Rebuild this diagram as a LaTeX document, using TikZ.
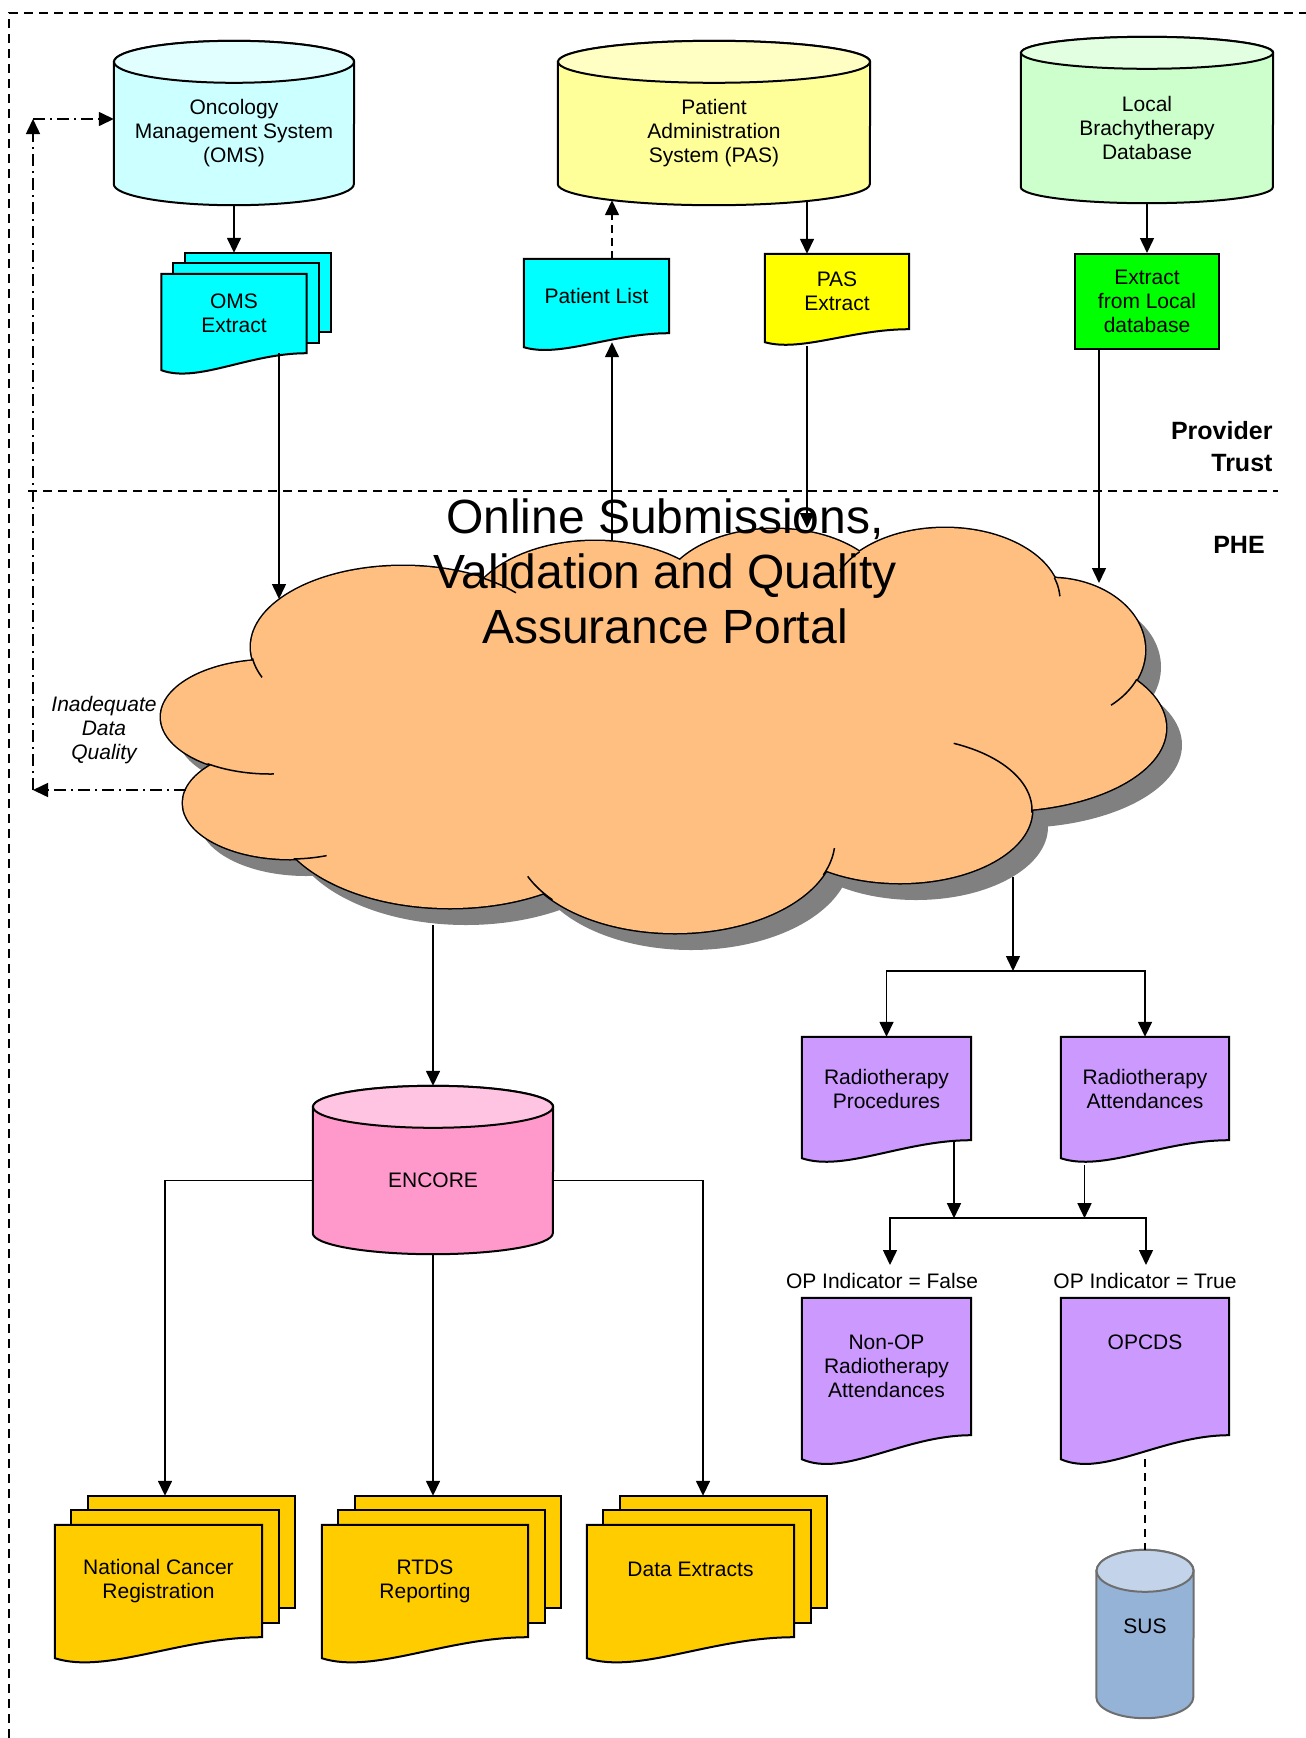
\documentclass[tikz,border=0pt]{standalone}
\usepackage{fontspec}
\setmainfont{Liberation Sans}
\usetikzlibrary{arrows.meta,calc,backgrounds}

\definecolor{omsbody}{HTML}{CCFFFF}
\definecolor{omstop}{HTML}{E2FFFF}
\definecolor{pasbody}{HTML}{FFFF99}
\definecolor{pastop}{HTML}{FFFFC4}
\definecolor{locbody}{HTML}{CCFFCC}
\definecolor{loctop}{HTML}{E2FFE2}
\definecolor{encbody}{HTML}{FF99CC}
\definecolor{enctop}{HTML}{FFC4E2}
\definecolor{susbody}{HTML}{95B3D7}
\definecolor{sustop}{HTML}{C3D4EA}
\definecolor{susline}{HTML}{6E6E6E}
\definecolor{extcyan}{HTML}{00FFFF}
\definecolor{extyellow}{HTML}{FFFF00}
\definecolor{extgreen}{HTML}{00FF00}
\definecolor{rtpurple}{HTML}{CC99FF}
\definecolor{outgold}{HTML}{FFCC00}
\definecolor{cloudfill}{HTML}{FFBF80}
\definecolor{cloudshade}{HTML}{808080}

\newcommand{\txt}{\fontsize{21}{24}\selectfont}
\newcommand{\titletxt}{\fontsize{48}{55}\selectfont}
\newcommand{\sidetxt}{\fontsize{25}{32}\selectfont\bfseries}

% Datenbank hinter einem Knoten: [Rand] Knoten, Halbbreite, Deckelradius, Koerper, Deckel
\newcommand{\dbshape}[6][black]{%
  \draw[shapeline, draw=#1, fill=#5] (#2.north west) -- ($(#2.south west)+(0,-#4)$)
    arc[start angle=180, end angle=360, x radius=#3pt, y radius=#4pt]
    -- (#2.north east)
    arc[start angle=0, end angle=180, x radius=#3pt, y radius=#4pt] -- cycle;
  \draw[shapeline, draw=#1, fill=#6] (#2.north) ellipse[x radius=#3pt, y radius=#4pt];}

% Dokument mit gewellter Unterkante: Knoten, Wellentiefe, Farbe
\newcommand{\docshape}[3]{%
  \draw[shapeline, fill=#3] (#1.south east) -- (#1.north east) -- (#1.north west)
    -- ($(#1.south west)+(0,#2)$)
    .. controls ($(#1.south west)!0.25!(#1.south east)+(0,1.78*#2)$)
    and ($(#1.south west)!0.6!(#1.south east)$) .. (#1.south east) -- cycle;}

% Stapel aus drei Blaettern: Knoten, Versatz x, Versatz y, Wellentiefe, Farbe
\newcommand{\stackshape}[5]{%
  \foreach \k in {2,1}
    \draw[shapeline, fill=#5] ($(#1.north west)+(\k*#2,-\k*#3)$) rectangle ($(#1.south east)+(\k*#2,-\k*#3)$);
  \docshape{#1}{#4}{#5}}

% Wolkenboegen: Mitte x/Mitte y/Radius x/Radius y
\def\lobes{403/647/152/81, 595/620/130/79, 775/600/115/71, 945/600/115/72,
  1050/650/95/72, 1000/728/166/83, 900/810/132/73, 675/840/160/93,
  450/808/178/100, 290/803/107/56, 270/717/109/57}

% kurzer Bogen im Inneren der Wolke
\newcommand{\lobehook}[6]{\draw[hookline] plot[domain=#5:#6, samples=24] ({#1+#3*cos(\x)},{#2+#4*sin(\x)});}

\begin{document}
\begin{tikzpicture}[x=1pt,y=-1pt,
  box/.style={inner sep=0pt, align=center, font=\txt},
  shapeline/.style={line width=2pt, draw=black},
  arr/.style={line width=1.5pt, -{Triangle[width=14pt,length=15pt]}},
  link/.style={line width=1.5pt},
  frameline/.style={line width=1.5pt, dash pattern=on 9pt off 6pt},
  fback/.style={arr, dash pattern=on 12pt off 5pt on 2pt off 5pt},
  hookline/.style={line width=1.5pt}]

\useasboundingbox (0,0) rectangle (1306,1738);

% Rahmen und Bereiche
\draw[frameline] (9,1738) -- (9,13) -- (1306,13);
\draw[frameline] (28,491) -- (1278,491);
\node[font=\sidetxt, align=right, anchor=east] (trust) at (1276,447) {Provider\\Trust};
\node[font=\sidetxt] (phe) at (1239,545) {PHE};

% Quellsysteme
\node[box, minimum width=240, minimum height=143] (oms) at (234,133.5) {Oncology\\Management System\\(OMS)};
\node[box, minimum width=312, minimum height=143] (pas) at (714,133.5) {Patient\\Administration\\System (PAS)};
\node[box, minimum width=252, minimum height=150] (local) at (1147,128) {Local\\Brachytherapy\\Database};

% Extrakte
\node[box, minimum width=145, minimum height=79] (omsx) at (234,313.5) {OMS\\Extract};
\node[box, minimum width=145, minimum height=74] (plist) at (596.5,296) {Patient List};
\node[box, minimum width=144, minimum height=75] (pasx) at (837,291.5) {PAS\\Extract};
\node[box, shapeline, fill=extgreen, minimum width=144, minimum height=95] (locx) at (1147,301.5) {Extract\\from Local\\database};

\begin{scope}[on background layer]
  \dbshape{oms}{120}{21}{omsbody}{omstop}
  \dbshape{pas}{156}{21}{pasbody}{pastop}
  \dbshape{local}{126}{16}{locbody}{loctop}
  \stackshape{omsx}{12}{10.5}{17}{extcyan}
  \docshape{plist}{14}{extcyan}
  \docshape{pasx}{13}{extyellow}
\end{scope}

% Wolke: Schatten, Rand, Fuellung
\begin{scope}[shift={(16,17)}]
  \foreach \cx/\cy/\rx/\ry in \lobes
    \fill[cloudshade] (\cx,\cy) ellipse[x radius=\rx, y radius=\ry];
  \fill[cloudshade] (680,730) ellipse[x radius=330, y radius=130];
\end{scope}
\foreach \cx/\cy/\rx/\ry in \lobes
  \draw[line width=3pt] (\cx,\cy) ellipse[x radius=\rx, y radius=\ry];
\foreach \cx/\cy/\rx/\ry in \lobes
  \fill[cloudfill] (\cx,\cy) ellipse[x radius=\rx, y radius=\ry];
\fill[cloudfill] (680,730) ellipse[x radius=330, y radius=130];

\lobehook{403}{647}{152}{81}{158}{172}
\lobehook{403}{647}{152}{81}{-60}{-42}
\lobehook{945}{600}{115}{72}{-156}{-138}
\lobehook{945}{600}{115}{72}{-18}{-3}
\lobehook{1050}{650}{95}{72}{24}{50}
\lobehook{900}{810}{132}{73}{-66}{2}
\lobehook{675}{840}{160}{93}{5}{22}
\lobehook{675}{840}{160}{93}{140}{157}
\lobehook{290}{803}{107}{56}{70}{88}
\lobehook{270}{717}{109}{57}{88}{125}

\node[font=\titletxt, align=center] (portal) at (665,571) {Online Submissions,\\Validation and Quality\\Assurance Portal};

% Punkte am Wolkenrand
\coordinate (cl-oms) at (279,599);
\coordinate (cl-plist) at (612,541);
\coordinate (cl-pasx) at (807,528);
\coordinate (cl-locx) at (1099,583);
\coordinate (cl-enc) at (433,925);
\coordinate (cl-rt) at (1013,877);
\coordinate (cl-fb) at (186,790);

% Rueckmeldung
\node[box, font=\txt\itshape] (inadq) at (104,730) {Inadequate\\Data\\Quality};
\coordinate (fb-low) at (33,790);
\coordinate (fb-up) at (33,119);
\draw[fback] (cl-fb) -- (fb-low);
\draw[fback] (fb-low) -- (fb-up);
\draw[fback] (fb-up) -- (oms.west |- fb-up);

% Radiotherapie
\node[box, minimum width=169, minimum height=103] (rtproc) at (886.5,1088.5) {Radiotherapy\\Procedures};
\node[box, minimum width=168, minimum height=103] (rtatt) at (1145,1088.5) {Radiotherapy\\Attendances};
\node[box] (opfalse) at (882,1281) {OP Indicator = False};
\node[box] (optrue) at (1145,1281) {OP Indicator = True};
\node[box, minimum width=169, minimum height=137] (nonop) at (886.5,1366.5) {Non-OP\\Radiotherapy\\Attendances};
\node[box, minimum width=168, minimum height=137] (opcds) at (1145,1366.5) {OPCDS\\\mbox{}\\\mbox{}};
\node[box, minimum width=97, minimum height=147] (sus) at (1145,1644.5) {};
\node[box] (sus-label) at (1145,1626) {SUS};

% ENCORE und Ausgaben
\node[box, minimum width=240, minimum height=147] (encore) at (433,1180.5) {ENCORE};
\node[box, minimum width=207, minimum height=112] (ncr) at (158.5,1581) {National Cancer\\Registration};
\node[box, minimum width=206, minimum height=112] (rtds) at (425,1581) {RTDS\\Reporting};
\node[box, minimum width=207, minimum height=112] (dext) at (690.5,1581) {Data Extracts\\\mbox{}};

\begin{scope}[on background layer]
  \docshape{rtproc}{18}{rtpurple}
  \docshape{rtatt}{18}{rtpurple}
  \docshape{nonop}{24}{rtpurple}
  \docshape{opcds}{24}{rtpurple}
  \dbshape[susline]{sus}{48.5}{21}{susbody}{sustop}
  \dbshape{encore}{120}{21}{encbody}{enctop}
  \stackshape{ncr}{16.5}{14.5}{21}{outgold}
  \stackshape{rtds}{16.5}{14.5}{21}{outgold}
  \stackshape{dext}{16.5}{14.5}{21}{outgold}
\end{scope}

% Verbindungen oben
\draw[arr] (oms.south) -- ($(omsx.north)+(0,-21)$);
\draw[arr] (cl-oms |- omsx.south) -- (cl-oms);
\draw[arr] (cl-plist) -- ($(cl-plist |- plist.south)+(0,9)$);
\draw[arr, dash pattern=on 8pt off 5pt] (cl-plist |- plist.north) -- ($(cl-plist |- pas.south)+(0,-5)$);
\draw[arr] ($(cl-pasx |- pas.south)+(0,-3)$) -- (cl-pasx |- pasx.north);
\draw[arr] ($(cl-pasx |- pasx.south)+(0,17)$) -- (cl-pasx);
\draw[arr] (local.south) -- (locx.north);
\draw[arr] (cl-locx |- locx.south) -- (cl-locx);

% Verbindungen unten
\draw[arr] (cl-enc) -- ($(encore.north)+(0,-21)$);
\draw[arr] (encore.west) -| ($(ncr.north)+(6.5,-29)$);
\draw[arr] (encore.south) -- ($(encore.south |- rtds.north)+(0,-29)$);
\draw[arr] (encore.east) -| ($(dext.north)+(12.5,-29)$);

\coordinate (split1) at (1013,971);
\coordinate (split2) at (1020,1218);
\coordinate (opf-in) at (890,1265);
\coordinate (opt-in) at (1146,1265);
\draw[arr] (cl-rt) -- (split1);
\draw[arr] (split1) -| (rtproc.north);
\draw[arr] (split1) -| (rtatt.north);
\draw[arr] ($(rtproc.south)+(67.5,0)$) -- ($(rtproc.south -| 954,0)+(0,78)$);
\draw[arr] ($(rtatt.south)+(-60.5,25)$) -- ($(rtatt.south)+(-60.5,78)$);
\draw[arr] (split2) -| (opf-in);
\draw[arr] (split2) -| (opt-in);
\draw[link, dash pattern=on 8pt off 6pt] ($(opcds.south)+(0,24)$) -- ($(sus.north)+(0,-21)$);

\end{tikzpicture}
\end{document}
